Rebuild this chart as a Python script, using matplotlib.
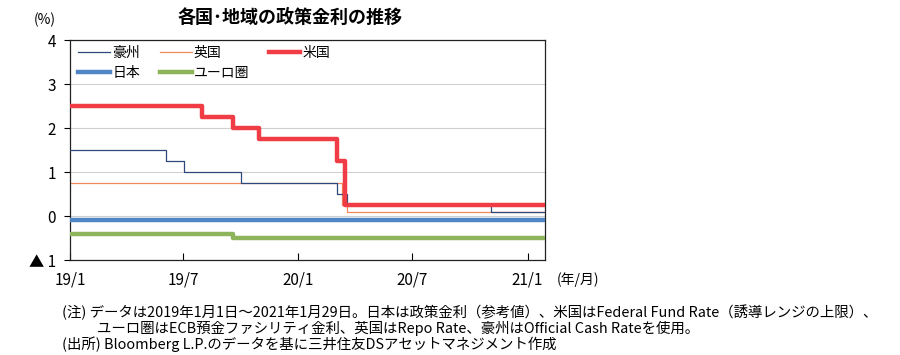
import numpy as np
import pandas as pd
import matplotlib.pyplot as plt
import matplotlib.dates as mdates

plt.rcParams['font.family'] = ['Noto Sans CJK JP', 'DejaVu Sans']

# データ（政策金利の変更日と水準）
END = "2021-01-29"
au_dates = ["2019-01-01", "2019-06-04", "2019-07-02", "2019-10-01", "2020-03-03", "2020-03-19", "2020-11-03", END]
au_vals  = [1.50, 1.25, 1.00, 0.75, 0.50, 0.25, 0.10, 0.10]
uk_dates = ["2019-01-01", "2020-03-11", "2020-03-19", END]
uk_vals  = [0.75, 0.25, 0.10, 0.10]
us_dates = ["2019-01-01", "2019-07-31", "2019-09-18", "2019-10-30", "2020-03-03", "2020-03-15", END]
us_vals  = [2.50, 2.25, 2.00, 1.75, 1.25, 0.25, 0.25]
jp_dates = ["2019-01-01", END]
jp_vals  = [-0.10, -0.10]
eu_dates = ["2019-01-01", "2019-09-18", END]
eu_vals  = [-0.40, -0.50, -0.50]

xtick_dates  = ["2019-01-01", "2019-07-01", "2020-01-01", "2020-07-01", "2021-01-01"]
xtick_labels = ["19/1", "19/7", "20/1", "20/7", "21/1"]
ytick_vals   = [-1, 0, 1, 2, 3, 4]
ytick_labels = ["▲ 1", "0", "1", "2", "3", "4"]

fig = plt.figure(figsize=(9, 3.55), dpi=100)
ax = fig.add_axes([0.0778, 0.2676, 0.5278, 0.6197])

h_au, = ax.plot(pd.to_datetime(au_dates), au_vals, drawstyle="steps-post", color="#2E4A7D", lw=0.9, label="豪州", zorder=3)
h_uk, = ax.plot(pd.to_datetime(uk_dates), uk_vals, drawstyle="steps-post", color="#F08A5D", lw=0.9, label="英国", zorder=2)
h_us, = ax.plot(pd.to_datetime(us_dates), us_vals, drawstyle="steps-post", color="#F03C45", lw=3.2, label="米国", zorder=4)
h_jp, = ax.plot(pd.to_datetime(jp_dates), jp_vals, drawstyle="steps-post", color="#4F86C6", lw=3.2, label="日本", zorder=4)
h_eu, = ax.plot(pd.to_datetime(eu_dates), eu_vals, drawstyle="steps-post", color="#8DB45A", lw=3.2, label="ユーロ圏", zorder=4)

ax.set_xlim(pd.Timestamp("2019-01-01"), pd.Timestamp(END))
ax.set_ylim(-1, 4)
ax.set_xticks(pd.to_datetime(xtick_dates))
ax.set_xticklabels(xtick_labels, fontsize=11)
ax.set_yticks(ytick_vals)
ax.set_yticklabels(ytick_labels, fontsize=11)
ax.tick_params(axis="x", direction="in", length=5, width=0.8, pad=8)
ax.tick_params(axis="y", direction="out", length=4, width=0.8, pad=6)
ax.grid(axis="y", color="#D0D0D0", lw=0.8, zorder=0)
for s in ax.spines.values():
    s.set_color("#222222")
    s.set_linewidth(0.9)

ax.legend([h_au, h_jp, h_uk, h_eu, h_us], ["豪州", "日本", "英国", "ユーロ圏", "米国"],
          ncol=3, loc="upper left", frameon=False, fontsize=10, handlelength=2.3,
          handletextpad=0.15, columnspacing=1.4, labelspacing=0.4,
          borderaxespad=0.2, bbox_to_anchor=(0.0, 1.01))

fig.text(0.322, 0.95, "各国･地域の政策金利の推移", ha="center", va="center", fontsize=13, fontweight="bold")
fig.text(0.05, 0.945, "(%)", ha="center", va="center", fontsize=10)
fig.text(0.619, 0.212, "(年/月)", ha="left", va="center", fontsize=10)

notes = [
    (0.069, 0.121, "(注) データは2019年1月1日～2021年1月29日。日本は政策金利（参考値）、米国はFederal Fund Rate（誘導レンジの上限）、"),
    (0.108, 0.076, "ユーロ圏はECB預金ファシリティ金利、英国はRepo Rate、豪州はOfficial Cash Rateを使用。"),
    (0.069, 0.031, "(出所) Bloomberg L.P.のデータを基に三井住友DSアセットマネジメント作成"),
]
for x, y, t in notes:
    fig.text(x, y, t, ha="left", va="center", fontsize=10.4)

fig.savefig("out.png", dpi=100)
